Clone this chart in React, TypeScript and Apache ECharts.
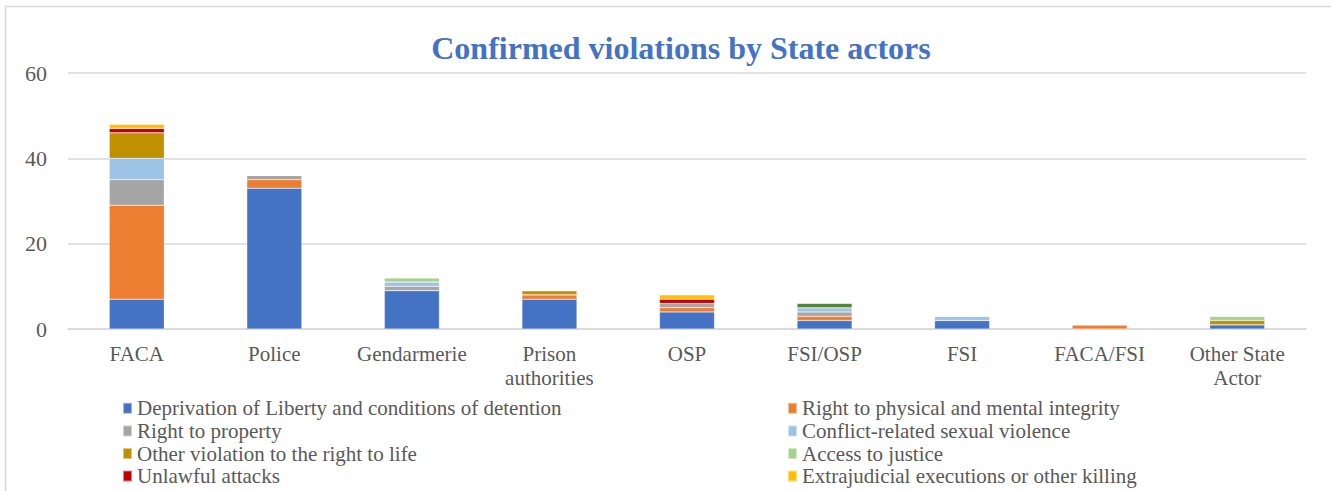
import React, { useEffect, useRef } from "react";
import * as echarts from "echarts";

const categories = ["FACA", "Police", "Gendarmerie", "Prison\nauthorities", "OSP", "FSI/OSP", "FSI", "FACA/FSI", "Other State\nActor"];
const liberty = [7, 33, 9, 7, 4, 2, 2, 0, 1];
const physical = [22, 2, 0, 1, 1, 1, 0, 1, 0];
const property = [6, 1, 1, 0, 1, 1, 0, 0, 0];
const sexual = [5, 0, 1, 0, 0, 1, 1, 0, 0];
const otherLife = [6, 0, 0, 1, 0, 0, 0, 0, 1];
const justice = [0, 0, 1, 0, 0, 0, 0, 0, 1];
const unlawful = [1, 0, 0, 0, 1, 0, 0, 0, 0];
const extrajudicial = [1, 0, 0, 0, 1, 0, 0, 0, 0];
const otherSeries = [0, 0, 0, 0, 0, 1, 0, 0, 0];
const yTicks = [0, 20, 40, 60];

const seriesDefs = [
  { name: "Deprivation of Liberty and conditions of detention", data: liberty, color: "#4472C4" },
  { name: "Right to physical and mental integrity", data: physical, color: "#ED7D31" },
  { name: "Right to property", data: property, color: "#A5A5A5" },
  { name: "Conflict-related sexual violence", data: sexual, color: "#9DC3E6" },
  { name: "Other violation to the right to life", data: otherLife, color: "#BF9000" },
  { name: "Access to justice", data: justice, color: "#A9D18E" },
  { name: "Unlawful attacks", data: unlawful, color: "#C00000" },
  { name: "Extrajudicial executions or other killing", data: extrajudicial, color: "#FFC000" },
  { name: "Other", data: otherSeries, color: "#548235" },
];

const FONT = "Liberation Serif";

export default function App() {
  const ref = useRef<HTMLDivElement>(null);
  useEffect(() => {
    if (!ref.current) return;
    const chart = echarts.init(ref.current, null, { renderer: "svg" });
    const legendText = { fontFamily: FONT, fontSize: 21, color: "#595959", lineHeight: 22.6 };
    const mkLegend = (left: number, parity: number) => ({
      orient: "vertical",
      left,
      top: 392,
      height: 120,
      itemWidth: 9,
      itemHeight: 11,
      itemGap: 0,
      icon: "rect",
      textStyle: legendText,
      data: seriesDefs.slice(0, 8).filter((_, i) => i % 2 === parity).map((s) => s.name),
    });
    chart.setOption({
      animation: false,
      backgroundColor: "#fff",
      textStyle: { fontFamily: FONT },
      title: {
        text: "Confirmed violations by State actors",
        left: 676,
        textAlign: "center",
        top: 27,
        textStyle: { fontFamily: FONT, fontSize: 32, fontWeight: "bold", color: "#4472C4" },
      },
      graphic: [
        { type: "line", shape: { x1: 5.5, y1: 6.5, x2: 1331, y2: 6.5 }, style: { stroke: "#D9D9D9", lineWidth: 1.5 } },
        { type: "line", shape: { x1: 5.5, y1: 6.5, x2: 5.5, y2: 491 }, style: { stroke: "#D9D9D9", lineWidth: 1.5 } },
      ],
      legend: [mkLegend(117, 0), mkLegend(782, 1)],
      grid: { left: 68, right: 25, top: 73, bottom: 162, containLabel: false },
      xAxis: {
        type: "category",
        data: categories,
        axisLine: { lineStyle: { color: "#D9D9D9", width: 1.5 } },
        axisTick: { show: false },
        axisLabel: { fontFamily: FONT, fontSize: 21, color: "#595959", lineHeight: 24, margin: 13, interval: 0 },
      },
      yAxis: {
        type: "value",
        min: yTicks[0],
        max: yTicks[yTicks.length - 1],
        interval: 20,
        axisLine: { show: false },
        axisTick: { show: false },
        splitLine: { lineStyle: { color: "#D9D9D9", width: 1.5 } },
        axisLabel: { fontFamily: FONT, fontSize: 22, color: "#595959", margin: 21 },
      },
      series: seriesDefs.map((s) => ({
        name: s.name,
        type: "bar",
        stack: "total",
        barWidth: 55,
        data: s.data,
        itemStyle: { color: s.color, borderColor: "rgba(255,255,255,0.5)", borderWidth: 0.5 },
      })),
    });
    return () => chart.dispose();
  }, []);
  return <div ref={ref} style={{ position: "fixed", left: 0, top: 0, width: 1331, height: 491 }} />;
}
